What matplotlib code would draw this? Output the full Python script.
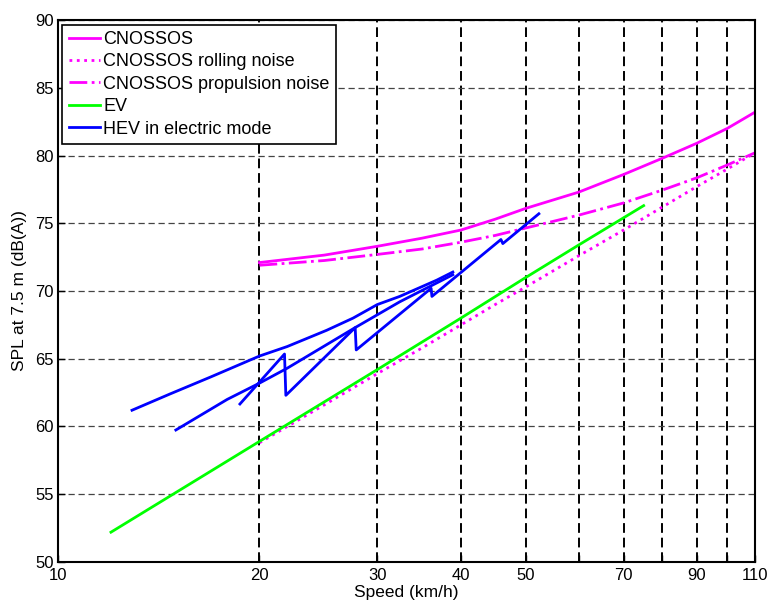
import matplotlib
matplotlib.use("Agg")
import matplotlib.pyplot as plt
import numpy as np

plt.rcParams['font.family'] = ['Liberation Sans', 'DejaVu Sans']

# CNOSSOS model curves (speed km/h, dB(A))
cn_speed = [20, 25, 30, 35, 40, 45, 50, 60, 70, 80, 90, 100, 110]
cn_total = [72.1, 72.65, 73.3, 73.9, 74.5, 75.3, 76.1, 77.3, 78.6, 79.8, 80.9, 82.0, 83.2]
cn_rolling = [58.8, 61.6, 63.9, 65.8, 67.5, 69.0, 70.3, 72.6, 74.5, 76.2, 77.7, 79.0, 80.2]
cn_propulsion = [71.9, 72.25, 72.7, 73.1, 73.6, 74.1, 74.65, 75.6, 76.5, 77.45, 78.35, 79.3, 80.2]

# EV measurement
ev_speed = [12, 20, 30, 40, 50, 60, 75]
ev_spl = [52.2, 58.9, 64.2, 68.0, 71.0, 73.4, 76.3]

# HEV in electric mode (three measurement runs)
hev1_speed = [12.9, 14.7, 16.9, 20.0, 22.0, 25.2, 27.6, 30.0, 32.4, 36.8, 38.9]
hev1_spl = [61.2, 62.4, 63.65, 65.2, 65.9, 67.1, 68.0, 69.0, 69.6, 70.8, 71.4]
hev2_speed = [15.0, 17.9, 20.0, 22.0, 27.8, 32.4, 38.9]
hev2_spl = [59.74, 62.0, 63.2, 64.3, 67.3, 69.2, 71.2]
hev3_speed = [18.7, 21.8, 21.9, 27.8, 27.9, 36.1, 36.2, 45.9, 46.2, 52.3]
hev3_spl = [61.66, 65.35, 62.3, 67.3, 65.65, 70.2, 69.6, 73.8, 73.5, 75.7]

xticks = [10, 20, 30, 40, 50, 60, 70, 80, 90, 100, 110]
xticklabels = ['10', '20', '30', '40', '50', '', '70', '', '90', '', '110']
yticks = [50, 55, 60, 65, 70, 75, 80, 85, 90]

fig = plt.figure(figsize=(7.7, 6.01), dpi=100)
ax = fig.add_axes([0.0753, 0.0649, 0.9052, 0.9018])

lw = 2.0
ax.plot(cn_speed, cn_total, color='#ff00ff', lw=lw, label='CNOSSOS')
ax.plot(cn_speed, cn_rolling, color='#ff00ff', lw=lw, ls=':', label='CNOSSOS rolling noise')
ax.plot(cn_speed, cn_propulsion, color='#ff00ff', lw=lw, ls='-.', label='CNOSSOS propulsion noise')
ax.plot(ev_speed, ev_spl, color='#00ff00', lw=lw, label='EV')
ax.plot(hev1_speed, hev1_spl, color='#0000ff', lw=lw, label='HEV in electric mode')
ax.plot(hev2_speed, hev2_spl, color='#0000ff', lw=lw)
ax.plot(hev3_speed, hev3_spl, color='#0000ff', lw=lw)

ax.set_xscale('log')
ax.set_xlim(10, 110)
ax.set_ylim(50, 90)
ax.set_xticks(xticks)
ax.set_xticklabels(xticklabels)
ax.xaxis.set_minor_locator(matplotlib.ticker.NullLocator())
ax.set_yticks(yticks)

ax.grid(True, which='major', axis='x', color='black', ls=(0, (5, 2.5)), lw=1.4)
ax.grid(True, which='major', axis='y', color='#444444', ls=(0, (5, 3)), lw=0.9)
ax.set_axisbelow(True)

ax.tick_params(direction='in', length=5, width=1, labelsize=12, top=False, right=False)
ax.tick_params(axis='x', pad=4.5)
ax.tick_params(axis='y', pad=3)
for s in ax.spines.values():
    s.set_linewidth(1.5)

ax.set_xlabel('Speed (km/h)', fontsize=12.5, labelpad=1)
ax.set_ylabel('SPL at 7.5 m (dB(A))', fontsize=12.5, labelpad=6)

leg = ax.legend(loc='upper left', fontsize=13, handlelength=1.7, handletextpad=0.22,
                labelspacing=0.3, borderpad=0.35, borderaxespad=0.25, fancybox=False,
                framealpha=1)
leg.get_frame().set_edgecolor('black')
leg.get_frame().set_linewidth(1.2)

fig.savefig('out.png', dpi=100)
